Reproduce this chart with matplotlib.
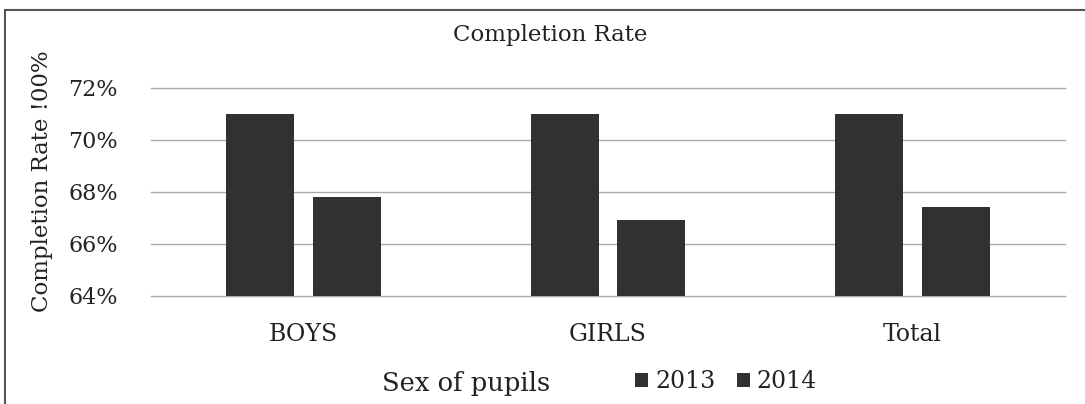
import matplotlib
matplotlib.use("Agg")
import matplotlib.pyplot as plt
import numpy as np
from matplotlib.patches import Rectangle
from matplotlib.ticker import FuncFormatter

categories = ["BOYS", "GIRLS", "Total"]
rate_2013 = [71.0, 71.0, 71.0]
rate_2014 = [67.8, 66.9, 67.4]
series_labels = ["2013", "2014"]
yticks = [64, 66, 68, 70, 72]

plt.rcParams['font.family'] = ['DejaVu Serif']
txt = '#222222'
bar_col = '#313131'

fig = plt.figure(figsize=(10.85, 4.04), dpi=100)
W, H = 1085, 404

# axes placed in pixel terms of the reference
ax = fig.add_axes([151 / W, 1 - 295.5 / H, (1065 - 151) / W, (295.5 - 87.7) / H])

x = np.arange(len(categories))
w = 0.223
off = 0.142
ax.bar(x - off, rate_2013, w, color=bar_col, zorder=3, label=series_labels[0])
ax.bar(x + off, rate_2014, w, color=bar_col, zorder=3, label=series_labels[1])

ax.set_xlim(-0.5, 2.5)
ax.set_ylim(64, 72)
ax.set_yticks(yticks)
ax.yaxis.set_major_formatter(FuncFormatter(lambda v, p: f"{v:.0f}%"))
ax.set_xticks(x)
ax.set_xticklabels(categories)
ax.tick_params(axis='both', length=0, colors=txt)
ax.tick_params(axis='y', pad=24, labelsize=16)
ax.tick_params(axis='x', pad=20, labelsize=17)
for t in yticks:
    ax.axhline(t, color='#aaaaaa', lw=1.0, zorder=0, clip_on=False)
for s in ax.spines.values():
    s.set_visible(False)

fig.text(550 / W, 1 - 35 / H, "Completion Rate", ha='center', va='center', fontsize=16.5, color=txt)
fig.text(42 / W, 1 - 181 / H, "Completion Rate !00%", ha='center', va='center',
         rotation=90, fontsize=16.5, color=txt)
fig.text(466 / W, 1 - 383 / H, "Sex of pupils", ha='center', va='center', fontsize=18.5, color=txt)

handles, labels = ax.get_legend_handles_labels()
fig.legend(handles, labels, loc='center', bbox_to_anchor=(726 / W, 1 - 382 / H), ncol=2,
           frameon=False, fontsize=17, handlelength=0.55, handleheight=0.55,
           handletextpad=0.3, columnspacing=0.9, labelcolor=txt)

# frame around the chart
fig.add_artist(Rectangle((5 / W, -0.1), 1.2, 1 - 10 / H + 0.1, transform=fig.transFigure,
                         fill=False, ec='#555555', lw=1.5))

fig.savefig("out.png", dpi=100)
